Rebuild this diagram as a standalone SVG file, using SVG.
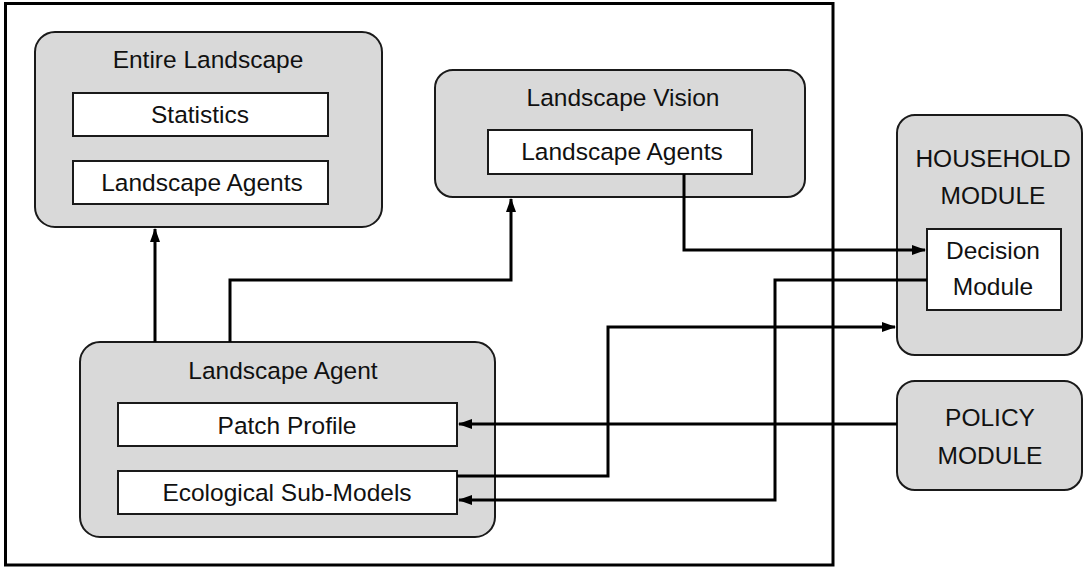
<svg xmlns="http://www.w3.org/2000/svg" width="1083" height="569" viewBox="0 0 1083 569">
<style>
.grp{fill:#d9d9d9;stroke:#1a1a1a;stroke-width:2}
.inner{fill:#ffffff;stroke:#1a1a1a;stroke-width:2}
.t{font-family:"Liberation Sans",Arial,sans-serif;font-size:24.5px;fill:#111;text-anchor:middle}
.c{fill:none;stroke:#000;stroke-width:3;stroke-linejoin:miter}
</style>
<defs>
<marker id="ah" markerUnits="userSpaceOnUse" markerWidth="14" markerHeight="10" refX="13" refY="5" orient="auto">
<path d="M0,0 L14,5 L0,10 z" fill="#000"/>
</marker>
</defs>
<rect id="frame" x="5.5" y="3.5" width="827.5" height="561.5" fill="#fff" stroke="#000" stroke-width="3"/>
<g id="entire-landscape">
<rect class="grp" x="35" y="32" width="347" height="195" rx="20"/>
<text class="t" x="208" y="68">Entire Landscape</text>
<rect class="inner" x="73" y="93" width="255" height="43"/>
<text class="t" x="200" y="123">Statistics</text>
<rect class="inner" x="73" y="161" width="255" height="43"/>
<text class="t" x="202" y="191">Landscape Agents</text>
</g>
<g id="landscape-vision">
<rect class="grp" x="435" y="70" width="370" height="127" rx="18"/>
<text class="t" x="623" y="106">Landscape Vision</text>
<rect class="inner" x="488" y="130" width="264" height="44"/>
<text class="t" x="622" y="160">Landscape Agents</text>
</g>
<g id="household-module">
<rect class="grp" x="897" y="115" width="185" height="240" rx="18"/>
<text class="t" x="993" y="167">HOUSEHOLD</text>
<text class="t" x="993" y="204">MODULE</text>
<rect class="inner" x="927" y="229" width="134" height="81"/>
<text class="t" x="993" y="259">Decision</text>
<text class="t" x="993" y="295">Module</text>
</g>
<g id="policy-module">
<rect class="grp" x="897" y="381" width="185" height="109" rx="18"/>
<text class="t" x="990" y="426">POLICY</text>
<text class="t" x="990" y="464">MODULE</text>
</g>
<g id="landscape-agent">
<rect class="grp" x="80" y="342" width="415" height="195" rx="20"/>
<text class="t" x="283" y="379">Landscape Agent</text>
<rect class="inner" x="118" y="403" width="339" height="43"/>
<text class="t" x="287" y="434">Patch Profile</text>
<rect class="inner" x="118" y="471" width="339" height="43"/>
<text class="t" x="287" y="501">Ecological Sub-Models</text>
</g>
<g id="connectors">
<path class="c" d="M155,342 V229" marker-end="url(#ah)"/>
<path class="c" d="M230,342 V280 H511 V199" marker-end="url(#ah)"/>
<path class="c" d="M684,174 V250 H925" marker-end="url(#ah)"/>
<path class="c" d="M927,280 H775 V500 H459" marker-end="url(#ah)"/>
<path class="c" d="M457,476 H608 V327 H895" marker-end="url(#ah)"/>
<path class="c" d="M897,424 H459" marker-end="url(#ah)"/>
</g>
</svg>
